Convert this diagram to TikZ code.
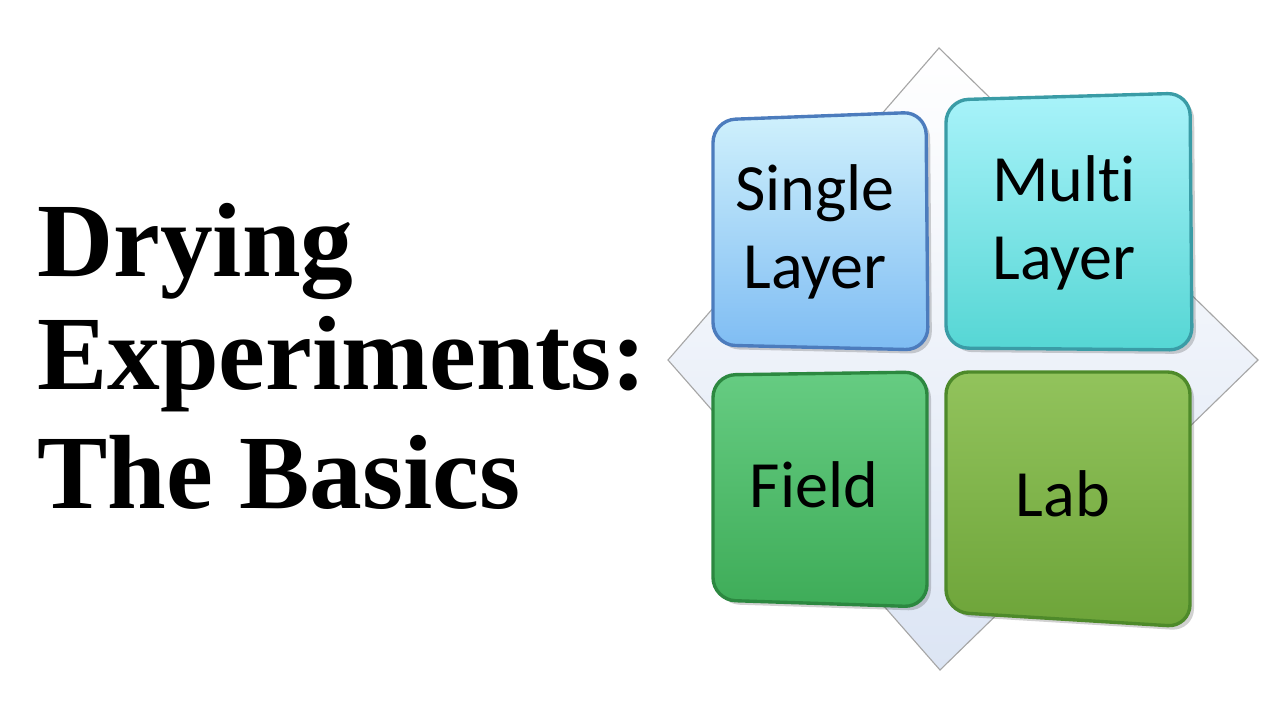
\documentclass[tikz,border=0pt]{standalone}
\usepackage{fontspec}
\setmainfont{Liberation Serif}
\newfontfamily\tilefont[Ligatures={NoCommon,NoRare}]{Carlito}
\usetikzlibrary{positioning}

\definecolor{singletop}{HTML}{D0F1FC}
\definecolor{singlebot}{HTML}{7EBCF3}
\definecolor{singleedge}{HTML}{4C7CBD}
\definecolor{multitop}{HTML}{A9F3FA}
\definecolor{multibot}{HTML}{55D6D4}
\definecolor{multiedge}{HTML}{3A9CA6}
\definecolor{fieldtop}{HTML}{66CC82}
\definecolor{fieldbot}{HTML}{3EAC58}
\definecolor{fieldedge}{HTML}{2C8840}
\definecolor{labtop}{HTML}{92C35C}
\definecolor{labbot}{HTML}{6DA439}
\definecolor{labedge}{HTML}{4E8A2A}
\definecolor{plate}{HTML}{DCE5F4}

\begin{document}
\begin{tikzpicture}[x=0.025cm,y=-0.025cm,
  tile/.style={rounded corners=16pt, line width=2.4pt},
  tileshadow/.style={rounded corners=16pt, fill=black, opacity=0.18},
  tilelabel/.style={font=\tilefont\fontsize{47}{56}\selectfont, align=center, inner sep=0pt},
  titleline/.style={font=\bfseries\fontsize{75}{82}\selectfont, anchor=base west, inner sep=0pt}]
\useasboundingbox (0,0) rectangle (1280,720);

% Title on the left
\node[titleline] (drying) at (37,277) {Drying};
\node[titleline] (experiments) at (37,390) {Experiments:};
\node[titleline] (basics) at (37,508) {The Basics};

% Diamond plate behind the tiles
\draw[gray!70, line width=0.8pt, top color=white, bottom color=plate]
  (939,48) -- (1258,360) -- (940,670) -- (668,360) -- cycle;

% Shadows of the four tiles
\fill[tileshadow] (717,124) -- (930,116) -- (932,354) -- (717,349) -- cycle;
\fill[tileshadow] (950,104) -- (1194,97) -- (1196,354) -- (950,352) -- cycle;
\fill[tileshadow] (717,379) -- (931,376) -- (931,611) -- (717,604) -- cycle;
\fill[tileshadow] (950,376) -- (1194,376) -- (1194,631) -- (950,616) -- cycle;

% The four tiles
\draw[tile, draw=singleedge, top color=singletop, bottom color=singlebot]
  (713,120) -- (926,112) -- (928,350) -- (713,345) -- cycle;
\draw[tile, draw=multiedge, top color=multitop, bottom color=multibot]
  (946,100) -- (1190,93) -- (1192,350) -- (946,348) -- cycle;
\draw[tile, draw=fieldedge, top color=fieldtop, bottom color=fieldbot]
  (713,375) -- (927,372) -- (927,607) -- (713,600) -- cycle;
\draw[tile, draw=labedge, top color=labtop, bottom color=labbot]
  (946,372) -- (1190,372) -- (1190,627) -- (946,612) -- cycle;

% Tile labels
\node[tilelabel] (single) at (815,232) {Single\\Layer};
\node[tilelabel] (multi) at (1064,223) {Multi\\Layer};
\node[tilelabel] (field) at (814,485) {Field};
\node[tilelabel] (lab) at (1063,494) {Lab};
\end{tikzpicture}
\end{document}
